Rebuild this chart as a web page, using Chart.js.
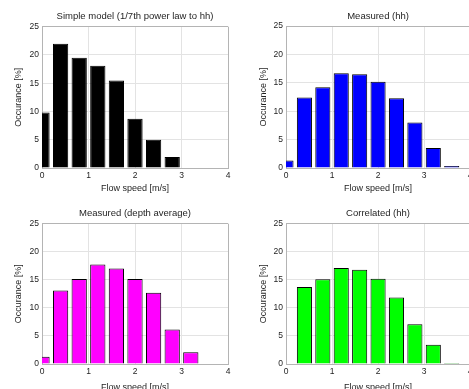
<!DOCTYPE html>
<html>
<head>
<meta charset="utf-8">
<script src="https://cdn.jsdelivr.net/npm/chart.js@4"></script>
<style>
  html, body { margin: 0; padding: 0; background: #fff; }
  #figure { position: relative; width: 469px; height: 389px; overflow: hidden; background: #fff; }
  #figure canvas { position: absolute; }
</style>
</head>
<body>
<div id="figure">
  <canvas id="simple-model"></canvas>
  <canvas id="measured-hh"></canvas>
  <canvas id="measured-depth"></canvas>
  <canvas id="correlated-hh"></canvas>
</div>
<script>
// Histogram bins (bin centres, m/s) and occurrence per bin (%)
const flowSpeedBins = [0, 0.4, 0.8, 1.2, 1.6, 2.0, 2.4, 2.8, 3.2, 3.6];
const simpleModel = [9.8, 22.0, 19.5, 18.1, 15.5, 8.7, 5.0, 1.95, 0, 0];
const measuredHH = [1.3, 12.4, 14.2, 16.7, 16.5, 15.2, 12.3, 8.0, 3.5, 0.35];
const measuredDepthAvg = [1.3, 13.1, 15.15, 17.75, 17.0, 15.15, 12.7, 6.15, 2.1, 0];
const correlatedHH = [0, 13.7, 15.1, 17.1, 16.8, 15.2, 11.85, 7.1, 3.45, 0.2];

// Axis ticks
const xTickValues = [0, 1, 2, 3, 4];
const yTickValues = [0, 5, 10, 15, 20, 25];

const FAMILY = '"Liberation Sans", Arial, sans-serif';
const TICK_FONT = { family: FAMILY, size: 8.5 };
const LABEL_FONT = { family: FAMILY, size: 9 };
const TITLE_FONT = { family: FAMILY, size: 9.5, weight: 'normal' };
const TEXT_COLOR = '#1e1e1e';
const GRID_COLOR = '#e3e3e3';
const BOX_COLOR = '#b4b4b4';

// One panel per subplot; sizes are in page pixels
const panels = [
  { id: 'simple-model', title: 'Simple model (1/7th power law to hh)', values: simpleModel, color: '#000000',
    left: 0, top: 0, width: 235, height: 195, yAxisWidth: 42, xAxisHeight: 27, padRight: 7,
    titlePad: { top: 11, bottom: 4.3 }, yTitlePad: 13.5, xTitlePad: 1.2 },
  { id: 'measured-hh', title: 'Measured (hh)', values: measuredHH, color: '#0000ff',
    left: 235, top: 0, width: 240, height: 195, yAxisWidth: 51, xAxisHeight: 27, padRight: 4,
    titlePad: { top: 11, bottom: 3.6 }, yTitlePad: 23.5, xTitlePad: 1.2 },
  { id: 'measured-depth', title: 'Measured (depth average)', values: measuredDepthAvg, color: '#ff00ff',
    left: 0, top: 195, width: 235, height: 200, yAxisWidth: 42, xAxisHeight: 31, padRight: 7,
    titlePad: { top: 13, bottom: 4.3 }, yTitlePad: 13.5, xTitlePad: 2.3 },
  { id: 'correlated-hh', title: 'Correlated (hh)', values: correlatedHH, color: '#00ff00',
    left: 235, top: 195, width: 240, height: 200, yAxisWidth: 51, xAxisHeight: 31, padRight: 4,
    titlePad: { top: 13, bottom: 4.3 }, yTitlePad: 23.5, xTitlePad: 2.3 }
];

function gridColor(maxValue) {
  return ctx => (ctx.tick && ctx.tick.value === maxValue) ? BOX_COLOR : GRID_COLOR;
}

function buildPanel(panel) {
  const canvas = document.getElementById(panel.id);
  canvas.width = panel.width;
  canvas.height = panel.height;
  canvas.style.left = panel.left + 'px';
  canvas.style.top = panel.top + 'px';
  canvas.style.width = panel.width + 'px';
  canvas.style.height = panel.height + 'px';

  return new Chart(canvas, {
    type: 'bar',
    data: {
      datasets: [{
        data: flowSpeedBins.map((speed, i) => ({ x: speed, y: panel.values[i] })),
        backgroundColor: panel.color,
        borderColor: '#000000',
        borderWidth: 1,
        borderSkipped: 'start',
        barPercentage: 0.82,
        categoryPercentage: 1,
        clip: 0
      }]
    },
    options: {
      responsive: false,
      animation: false,
      events: [],
      layout: { padding: { left: 0, right: panel.padRight, top: 0, bottom: 0 } },
      plugins: {
        legend: { display: false },
        tooltip: { enabled: false },
        title: {
          display: true,
          text: panel.title,
          fullSize: false,
          color: TEXT_COLOR,
          font: TITLE_FONT,
          padding: panel.titlePad
        }
      },
      scales: {
        x: {
          type: 'linear',
          min: 0,
          max: 4,
          offset: false,
          afterBuildTicks: axis => { axis.ticks = xTickValues.map(v => ({ value: v })); },
          afterFit: axis => { axis.height = panel.xAxisHeight; },
          grid: { offset: false, drawTicks: false, color: gridColor(4), lineWidth: 1 },
          border: { color: BOX_COLOR, width: 1 },
          ticks: { color: TEXT_COLOR, font: TICK_FONT, padding: 2.5, maxRotation: 0, autoSkip: false },
          title: {
            display: true,
            text: 'Flow speed [m/s]',
            color: TEXT_COLOR,
            font: LABEL_FONT,
            padding: { top: 0, bottom: panel.xTitlePad }
          }
        },
        y: {
          min: 0,
          max: 25,
          afterBuildTicks: axis => { axis.ticks = yTickValues.map(v => ({ value: v })); },
          afterFit: axis => { axis.width = panel.yAxisWidth; },
          grid: { drawTicks: false, color: gridColor(25), lineWidth: 1 },
          border: { color: BOX_COLOR, width: 1 },
          ticks: { color: TEXT_COLOR, font: TICK_FONT, padding: 3 },
          title: {
            display: true,
            text: 'Occurance [%]',
            color: TEXT_COLOR,
            font: LABEL_FONT,
            padding: { top: panel.yTitlePad, bottom: 0 }
          }
        }
      }
    }
  });
}

panels.forEach(buildPanel);
</script>
</body>
</html>
